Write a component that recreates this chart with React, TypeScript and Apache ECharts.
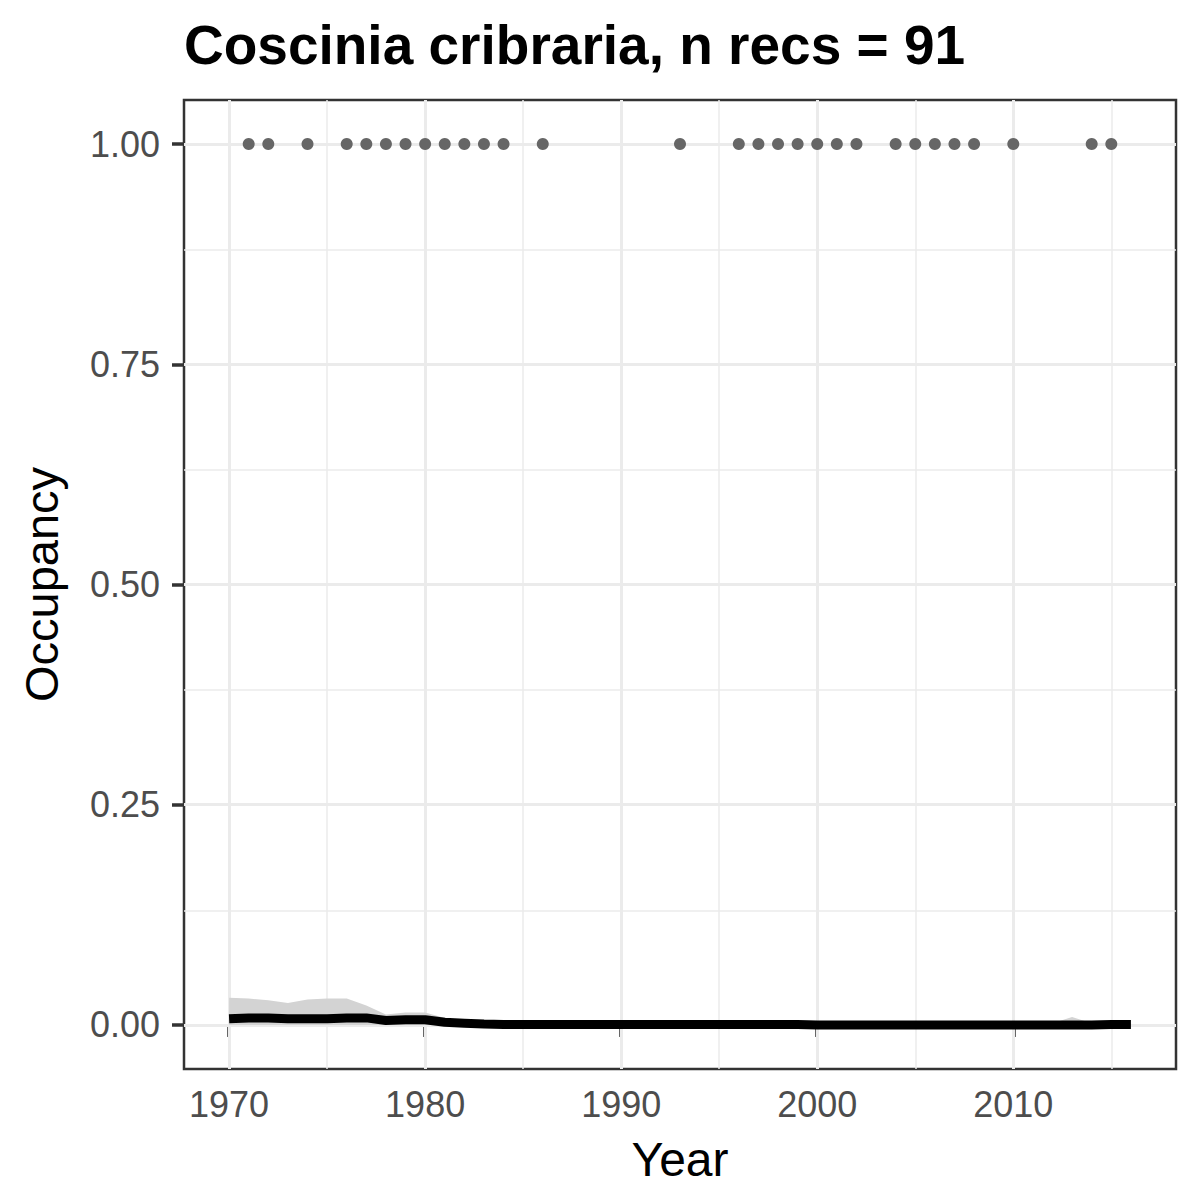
import React, { useEffect, useRef } from "react";
import * as echarts from "echarts";

// years modelled
const years = [
  1970, 1971, 1972, 1973, 1974, 1975, 1976, 1977, 1978, 1979,
  1980, 1981, 1982, 1983, 1984, 1985, 1986, 1987, 1988, 1989,
  1990, 1991, 1992, 1993, 1994, 1995, 1996, 1997, 1998, 1999,
  2000, 2001, 2002, 2003, 2004, 2005, 2006, 2007, 2008, 2009,
  2010, 2011, 2012, 2013, 2014, 2015, 2016,
];

// mean occupancy (black line)
const occMean = [
  0.007, 0.008, 0.008, 0.007, 0.007, 0.007, 0.008, 0.008, 0.005, 0.006,
  0.006, 0.003, 0.002, 0.001, 0.0005, 0.0005, 0.0005, 0.0005, 0.0005, 0.0005,
  0.0005, 0.0005, 0.0005, 0.0005, 0.0005, 0.0005, 0.0005, 0.0005, 0.0005, 0.0005,
  0, 0, 0, 0, 0, 0, 0, 0, 0, 0,
  0, 0, 0, 0, 0, 0.0005, 0.0005,
];

// upper credible bound (grey ribbon, lower bound sits at 0)
const occUpper = [
  0.031, 0.03, 0.028, 0.025, 0.029, 0.03, 0.03, 0.022, 0.012, 0.014,
  0.014, 0.008, 0.004, 0.002, 0.002, 0.002, 0.002, 0.002, 0.002, 0.002,
  0.002, 0.002, 0.002, 0.002, 0.002, 0.005, 0.005, 0.002, 0.002, 0.002,
  0.002, 0.002, 0.002, 0.002, 0.002, 0.002, 0.002, 0.002, 0.002, 0.002,
  0.002, 0.002, 0.002, 0.009, 0.002, 0.002, 0.002,
];

// years with records (plotted at 1)
const recordYears = [
  1971, 1972, 1974, 1976, 1977, 1978, 1979, 1980, 1981, 1982, 1983, 1984,
  1986, 1993, 1996, 1997, 1998, 1999, 2000, 2001, 2002, 2004, 2005, 2006,
  2007, 2008, 2010, 2014, 2015,
];

const xTicks = [1970, 1980, 1990, 2000, 2010];
const xMinor = [1975, 1985, 1995, 2005, 2015];
const yTicks = [0, 0.25, 0.5, 0.75, 1];
const yMinor = [0.125, 0.375, 0.625, 0.875];

const FONT = "Liberation Sans, Arial, sans-serif";

const App: React.FC = () => {
  const chartRef = useRef<HTMLDivElement>(null);

  useEffect(() => {
    document.body.style.margin = "0";
    const chartDom = chartRef.current;
    if (!chartDom) return;
    const myChart = echarts.init(chartDom, undefined, { renderer: "svg" });

    const gridColor = "#ebebeb";
    const gridLines = [
      ...xTicks.map((v) => ({ xAxis: v, lineStyle: { width: 3 } })),
      ...xMinor.map((v) => ({ xAxis: v, lineStyle: { width: 1.5 } })),
      ...yTicks.map((v) => ({ yAxis: v, lineStyle: { width: 3 } })),
      ...yMinor.map((v) => ({ yAxis: v, lineStyle: { width: 1.5 } })),
    ];

    const option: any = {
      animation: false,
      title: {
        text: "Coscinia cribraria, n recs = 91",
        left: 179,
        top: 12,
        textStyle: {
          fontFamily: FONT,
          fontSize: 55,
          fontWeight: "bold",
          color: "#000",
        },
      },
      grid: {
        left: 184,
        top: 100,
        right: 24,
        bottom: 131,
        show: true,
        borderColor: "#333333",
        borderWidth: 2.5,
        backgroundColor: "transparent",
      },
      xAxis: {
        type: "value",
        min: 1967.7,
        max: 2018.3,
        name: "Year",
        nameLocation: "middle",
        nameGap: 66,
        nameTextStyle: { fontFamily: FONT, fontSize: 48, color: "#000" },
        axisLine: { show: false },
        axisTick: {
          show: true,
          length: 12,
          customValues: xTicks,
          lineStyle: { color: "#333333", width: 3.5 },
        },
        axisLabel: {
          customValues: xTicks,
          margin: 17,
          fontFamily: FONT,
          fontSize: 36,
          color: "#4d4d4d",
          formatter: (v: number) => String(v),
        },
        splitLine: { show: false },
      },
      yAxis: {
        type: "value",
        min: -0.05,
        max: 1.05,
        name: "Occupancy",
        nameLocation: "middle",
        nameGap: 119,
        nameTextStyle: { fontFamily: FONT, fontSize: 47, color: "#000" },
        axisLine: { show: false },
        axisTick: {
          show: true,
          length: 12,
          customValues: yTicks,
          lineStyle: { color: "#333333", width: 3.5 },
        },
        axisLabel: {
          customValues: yTicks,
          margin: 24,
          fontFamily: FONT,
          fontSize: 36,
          color: "#4d4d4d",
          formatter: (v: number) => v.toFixed(2),
        },
        splitLine: { show: false },
      },
      series: [
        {
          name: "grid",
          type: "scatter",
          data: [],
          z: 1,
          markLine: {
            silent: true,
            symbol: "none",
            z: 1,
            label: { show: false },
            lineStyle: { color: gridColor, type: "solid" },
            data: gridLines,
          },
        },
        {
          name: "ci",
          type: "line",
          data: years.map((y, i) => [y, occUpper[i]]),
          symbol: "none",
          showSymbol: false,
          lineStyle: { width: 0, color: "#d3d3d3" },
          areaStyle: { color: "#d3d3d3", opacity: 1, origin: "auto" },
          z: 2,
        },
        {
          name: "mean",
          type: "line",
          data: years.map((y, i) => [y, occMean[i]]),
          symbol: "none",
          lineStyle: { color: "#000", width: 9, cap: "butt", join: "round" },
          z: 3,
        },
        {
          name: "records",
          type: "scatter",
          data: recordYears.map((y) => [y, 1]),
          symbol: "circle",
          symbolSize: 12,
          itemStyle: { color: "#666666", opacity: 1 },
          z: 4,
        },
      ],
    };

    myChart.setOption(option);

    return () => {
      myChart.dispose();
    };
  }, []);

  return <div ref={chartRef} style={{ width: "1200px", height: "1200px" }} />;
};

export default App;
